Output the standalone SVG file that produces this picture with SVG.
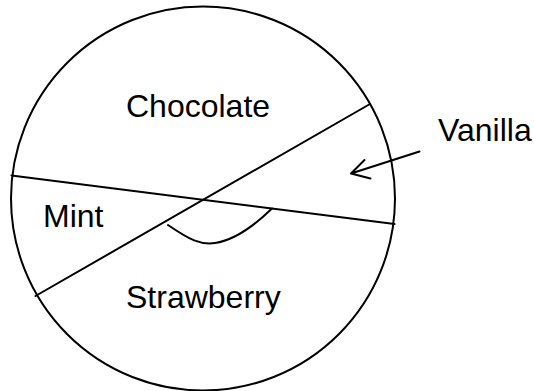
<svg xmlns="http://www.w3.org/2000/svg" width="534" height="391" viewBox="0 0 534 391">
<style>
.s{fill:none;stroke:#000;stroke-width:2;stroke-linecap:round;stroke-linejoin:round}
.t{font-family:"Liberation Sans",Arial,sans-serif;font-size:32px;fill:#000}
</style>
<rect width="534" height="391" fill="#fff"/>
<g id="pie">
<circle class="s" cx="203" cy="198.5" r="192"/>
</g>
<g id="cuts">
<line class="s" x1="11.5" y1="175.5" x2="394.5" y2="224"/>
<line class="s" x1="35.5" y1="296" x2="370" y2="104"/>
<path class="s" d="M168,225 C190,240 200,245 215,243 C235,240 255,225 272,208.5"/>
</g>
<g id="chocolate"><text class="t" x="126" y="117">Chocolate</text></g>
<g id="mint"><text class="t" x="43" y="227">Mint</text></g>
<g id="strawberry"><text class="t" x="126" y="308">Strawberry</text></g>
<g id="vanilla"><text class="t" x="438" y="141">Vanilla</text></g>
<g id="connectors">
<path class="s" d="M419.5,151.5 L351,173.5 M364.5,160 L351,173.5 L370.5,178.5"/>
</g>
</svg>
